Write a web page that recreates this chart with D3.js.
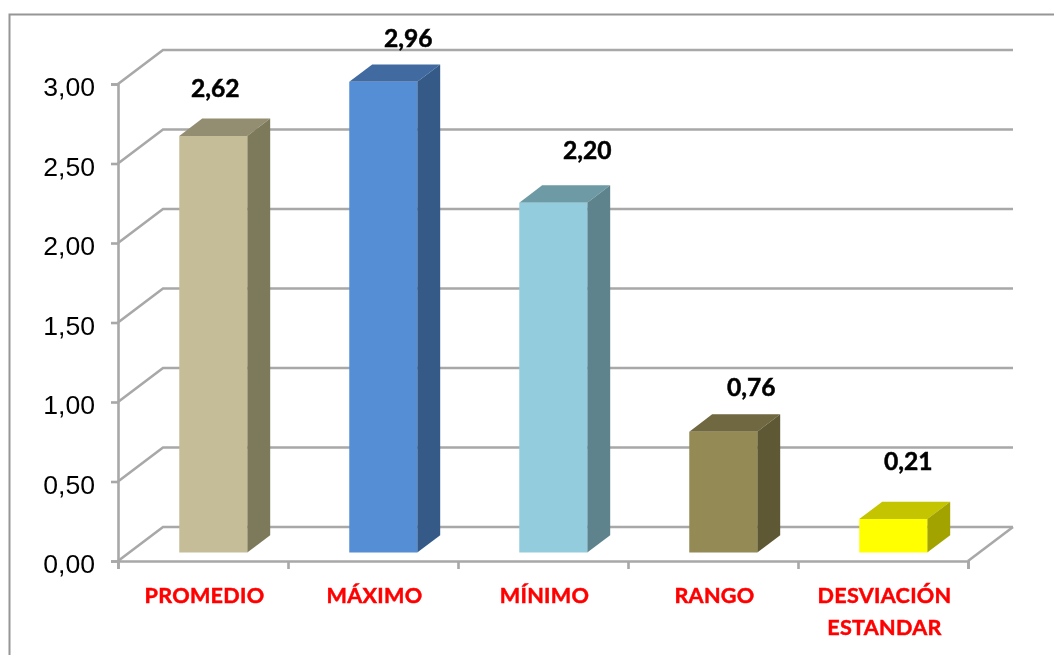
<!DOCTYPE html>
<html>
<head>
<meta charset="utf-8">
<script src="https://cdn.jsdelivr.net/npm/d3@7"></script>
<style>
  html, body { margin: 0; padding: 0; background: #fff; overflow: hidden; }
  svg { display: block; }
</style>
</head>
<body>
<svg id="chart"></svg>
<script>
// Values
const categories = ["PROMEDIO", "MÁXIMO", "MÍNIMO", "RANGO", "DESVIACIÓN ESTANDAR"];
const values = [2.62, 2.96, 2.20, 0.76, 0.21];
const valueLabels = ["2,62", "2,96", "2,20", "0,76", "0,21"];
const yTicks = [0, 0.5, 1, 1.5, 2, 2.5, 3];

// Bar colours: front, top and side faces
const frontColors = ["#c4bd97", "#558ed5", "#93cddd", "#948a54", "#ffff00"];
const topColors = ["#938e71", "#3f6ba0", "#6e9aa6", "#6f673f", "#c4c400"];
const sideColors = ["#7d7a5c", "#345a87", "#5e838d", "#5e5835", "#a3a300"];

// The data labels were placed by hand in the original, so each has its own nudge
const labelNudgeX = [1, 24, 33, 27, 14];
const labelNudgeY = [-39, -35, -44, -36, -49];

const width = 1054, height = 655;
const margin = { top: 84, right: 86, bottom: 94, left: 118 };
const depthX = 45, depthY = 34;

const svg = d3.select("#chart")
    .attr("width", width)
    .attr("height", height);

// Slight softening, the reference is an enlarged bitmap
const soft = svg.append("defs").append("filter").attr("id", "soft");
soft.append("feGaussianBlur").attr("stdDeviation", 0.6);

const root = svg.append("g").attr("filter", "url(#soft)");

// Outer frame, cut off by the right and bottom of the picture
root.append("path")
    .attr("d", d3.line()([[9.5, height + 5], [9.5, 14.5], [width + 5, 14.5]]))
    .attr("fill", "none")
    .attr("stroke", "#969696")
    .attr("stroke-width", 2);

const x = d3.scaleBand()
    .domain(categories)
    .range([margin.left, width - margin.right])
    .paddingInner(0.6)
    .paddingOuter(0.3);

const xEdges = d3.scaleLinear()
    .domain([0, categories.length])
    .range([margin.left, width - margin.right]);

const y = d3.scaleLinear()
    .domain([0, 3])
    .range([height - margin.bottom, margin.top]);

// Maps a point on the front plane to its place at a depth between 0 and 1
const project = (px, v, d) => [px + d * depthX, y(v) - d * depthY];

const gridColor = "#a8a8a8";
const gridWidth = 2.6;
const line = d3.line();

// Gridlines: diagonal up the side wall, then along the back wall
root.append("g")
    .selectAll("path")
    .data(yTicks)
    .enter().append("path")
    .attr("d", t => line([
        project(x.range()[0], t, 0),
        project(x.range()[0], t, 1),
        project(x.range()[1], t, 1)
    ]))
    .attr("fill", "none")
    .attr("stroke", gridColor)
    .attr("stroke-width", gridWidth);

// Right edge of the floor
root.append("path")
    .attr("d", line([project(x.range()[1], 0, 0), project(x.range()[1], 0, 1)]))
    .attr("fill", "none")
    .attr("stroke", gridColor)
    .attr("stroke-width", gridWidth);

// Y axis
const yAxis = root.append("g")
    .attr("transform", `translate(${margin.left},0)`)
    .call(d3.axisLeft(y)
        .tickValues(yTicks)
        .tickSizeOuter(0)
        .tickSize(7)
        .tickPadding(16)
        .tickFormat(d => d3.format(".2f")(d).replace(".", ",")));
yAxis.selectAll("text")
    .attr("font-family", "'Liberation Sans', Arial, sans-serif")
    .attr("font-size", 26.6)
    .attr("dy", "0.44em")
    .attr("fill", "#000");

// X axis, the ticks sit between the categories
const xAxis = root.append("g")
    .attr("transform", `translate(0,${y(0)})`)
    .call(d3.axisBottom(xEdges)
        .tickValues(d3.range(categories.length + 1))
        .tickSizeOuter(0)
        .tickSize(8)
        .tickFormat(""));

root.selectAll(".domain, .tick line")
    .attr("stroke", gridColor)
    .attr("stroke-width", gridWidth);

// Bars: top, side and front faces
const bars = root.selectAll(".bar")
    .data(categories)
    .enter().append("g")
    .attr("class", "bar");

const bw = x.bandwidth();
const near = 0.25, far = 0.76;
const barShift = -1;

bars.append("polygon")
    .attr("points", (c, i) => [
        project(x(c) + barShift, values[i], near),
        project(x(c) + barShift, values[i], far),
        project(x(c) + barShift + bw, values[i], far),
        project(x(c) + barShift + bw, values[i], near)
    ].join(" "))
    .attr("fill", (c, i) => topColors[i]);

bars.append("polygon")
    .attr("points", (c, i) => [
        project(x(c) + barShift + bw, 0, near),
        project(x(c) + barShift + bw, values[i], near),
        project(x(c) + barShift + bw, values[i], far),
        project(x(c) + barShift + bw, 0, far)
    ].join(" "))
    .attr("fill", (c, i) => sideColors[i]);

bars.append("polygon")
    .attr("points", (c, i) => [
        project(x(c) + barShift, 0, near),
        project(x(c) + barShift, values[i], near),
        project(x(c) + barShift + bw, values[i], near),
        project(x(c) + barShift + bw, 0, near)
    ].join(" "))
    .attr("fill", (c, i) => frontColors[i]);

// Data labels
bars.append("text")
    .attr("x", (c, i) => project(x(c) + bw / 2, values[i], near)[0] + labelNudgeX[i])
    .attr("y", (c, i) => project(x(c), values[i], near)[1] + labelNudgeY[i])
    .attr("text-anchor", "middle")
    .attr("font-family", "Lato, sans-serif")
    .attr("font-weight", "bold")
    .attr("font-size", 24.6)
    .attr("stroke", "#000")
    .attr("stroke-width", 0.5)
    .attr("fill", "#000")
    .text((c, i) => valueLabels[i]);

// Category labels, wrapped on the space
const catLabels = root.append("g")
    .selectAll("text")
    .data(categories)
    .enter().append("text")
    .attr("text-anchor", "middle")
    .attr("font-family", "Lato, sans-serif")
    .attr("font-weight", "bold")
    .attr("font-size", 21.6)
    .attr("letter-spacing", 0.3)
    .attr("stroke", "#ff0000")
    .attr("stroke-width", 0.5)
    .attr("fill", "#ff0000");

catLabels.selectAll("tspan")
    .data(c => c.split(" ").map(word => ({ word, c })))
    .enter().append("tspan")
    .attr("x", d => x(d.c) + bw / 2 + 1.5)
    .attr("y", (d, i) => y(0) + 42 + i * 32)
    .text(d => d.word);
</script>
</body>
</html>
